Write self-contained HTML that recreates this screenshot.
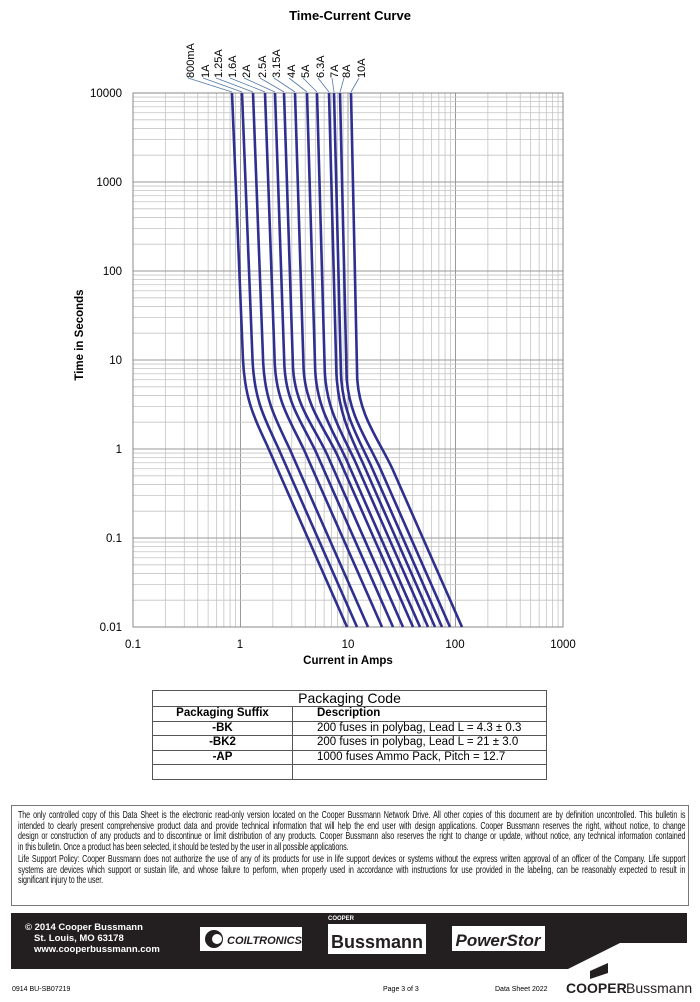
<!DOCTYPE html>
<html><head><meta charset="utf-8"><style>
body{margin:0;background:#fff;width:700px;height:1002px;overflow:hidden;position:relative;font-family:"Liberation Sans",sans-serif}
.a{position:absolute}
.disc{position:absolute;left:11px;top:805px;width:678px;height:101px;border:1px solid #777;box-sizing:border-box}
.ln{position:absolute;left:6px;width:970px;font-size:10.4px;white-space:nowrap;transform:scaleX(0.688);transform-origin:0 0;text-align:justify;text-align-last:justify;letter-spacing:-0.15px;color:#111}
table{border-collapse:collapse;position:absolute;left:152px;top:690px;width:395px;font-size:11.5px}
td{border:1px solid #555;padding:0;height:13.5px;line-height:13px}
</style></head><body>
<div class="a" style="left:0;width:700px;top:8px;text-align:center;font-weight:bold;font-size:13px">Time-Current Curve</div>
<svg class="a" style="left:0;top:0" width="700" height="680" id="s">
<g id="grid"></g><g id="curves" fill="none" stroke="#2e2f8f" stroke-width="2.6"></g><g id="lead" stroke="#5577aa" stroke-width="0.8"></g>
<g font-size="11.5" fill="#000" text-anchor="end">
<text x="122" y="97">10000</text><text x="122" y="186">1000</text><text x="122" y="275">100</text><text x="122" y="364">10</text><text x="122" y="453">1</text><text x="122" y="542">0.1</text><text x="122" y="631">0.01</text></g>
<g font-size="11.5" text-anchor="middle"><text x="133" y="648">0.1</text><text x="240" y="648">1</text><text x="348" y="648">10</text><text x="455" y="648">100</text><text x="563" y="648">1000</text></g>
<text x="348" y="664" text-anchor="middle" font-size="11.5" font-weight="bold">Current in Amps</text>
<text transform="translate(83,335) rotate(-90)" text-anchor="middle" font-size="11.5" font-weight="bold">Time in Seconds</text>
<g font-size="11" id="labs"></g>
</svg>
<table>
<tr><td colspan="2" style="text-align:center;font-size:14px;height:15px">Packaging Code</td></tr>
<tr><td style="width:139px;text-align:center;font-weight:bold">Packaging Suffix</td><td style="font-weight:bold;padding-left:24px">Description</td></tr>
<tr><td style="text-align:center;font-weight:bold">-BK</td><td style="padding-left:24px">200 fuses in polybag, Lead L = 4.3 ± 0.3</td></tr>
<tr><td style="text-align:center;font-weight:bold">-BK2</td><td style="padding-left:24px">200 fuses in polybag, Lead L = 21 ± 3.0</td></tr>
<tr><td style="text-align:center;font-weight:bold">-AP</td><td style="padding-left:24px">1000 fuses Ammo Pack, Pitch = 12.7</td></tr>
<tr><td></td><td></td></tr>
</table>
<div class="disc">
<div class="ln" style="top:4px">The only controlled copy of this Data Sheet is the electronic read-only version located on the Cooper Bussmann Network Drive. All other copies of this document are by definition uncontrolled. This bulletin is</div>
<div class="ln" style="top:14.5px">intended to clearly present comprehensive product data and provide technical information that will help the end user with design applications. Cooper Bussmann reserves the right, without notice, to change</div>
<div class="ln" style="top:25px">design or construction of any products and to discontinue or limit distribution of any products. Cooper Bussmann also reserves the right to change or update, without notice, any technical information contained</div>
<div class="ln" style="top:35.5px;text-align-last:left">in this bulletin. Once a product has been selected, it should be tested by the user in all possible applications.</div>
<div class="ln" style="top:48px">Life Support Policy: Cooper Bussmann does not authorize the use of any of its products for use in life support devices or systems without the express written approval of an officer of the Company. Life support</div>
<div class="ln" style="top:58.5px">systems are devices which support or sustain life, and whose failure to perform, when properly used in accordance with instructions for use provided in the labeling, can be reasonably expected to result in</div>
<div class="ln" style="top:69px;text-align-last:left">significant injury to the user.</div>
</div>
<svg class="a" style="left:0;top:905px" width="700" height="97">
<polygon points="11,8 687,8 687,38 620,38 568,64 11,64" fill="#231f20"/>
<polygon points="590,66 608,58 608,68 590,74" fill="#231f20"/>
<rect x="200" y="22" width="102" height="24" fill="#fff"/><circle cx="214" cy="34" r="9" fill="#231f20"/><circle cx="217" cy="34" r="5" fill="#fff"/>
<text x="227" y="39" font-size="11" font-weight="bold" font-style="italic" fill="#231f20">COILTRONICS</text>
<rect x="328" y="19" width="98" height="30" fill="#fff"/><text x="377" y="43" text-anchor="middle" font-size="18" font-weight="bold" fill="#231f20">Bussmann</text>
<text x="328" y="15" font-size="6" font-weight="bold" fill="#fff">COOPER</text>
<rect x="452" y="21" width="93" height="25" fill="#fff"/><text x="498" y="41" text-anchor="middle" font-size="17" font-weight="bold" font-style="italic" fill="#231f20">PowerStor</text>
<text x="25" y="25" font-size="9.5" font-weight="bold" fill="#fff">© 2014 Cooper Bussmann</text>
<text x="34" y="36" font-size="9.5" font-weight="bold" fill="#fff">St. Louis, MO 63178</text>
<text x="34" y="47" font-size="9.5" font-weight="bold" fill="#fff">www.cooperbussmann.com</text>
<text x="12" y="86" font-size="7">0914   BU-SB07219</text>
<text x="383" y="86" font-size="7">Page 3 of 3</text>
<text x="495" y="86" font-size="7">Data Sheet 2022</text>
<text x="566" y="88" font-size="14" font-weight="bold" fill="#231f20">COOPER</text>
<text x="626" y="88" font-size="14" fill="#231f20">Bussmann</text>
</svg>
<script>
var NS="http://www.w3.org/2000/svg";
function el(p,t,a){var e=document.createElementNS(NS,t);for(var k in a)e.setAttribute(k,a[k]);p.appendChild(e);return e;}
var g=document.getElementById("grid");
var X0=133,XD=107.5,YD=89;
for(var d=0;d<4;d++)for(var m=1;m<=9;m++){var x=X0+XD*(d+Math.log10(m));el(g,"line",{x1:x,x2:x,y1:93,y2:627,stroke:m==1?"#999":"#c4c4c4","stroke-width":m==1?1:0.8});}
for(var d=0;d<6;d++)for(var m=1;m<=9;m++){var y=627-YD*(d+Math.log10(m));el(g,"line",{x1:133,x2:563,y1:y,y2:y,stroke:m==1?"#999":"#c4c4c4","stroke-width":m==1?1:0.8});}
el(g,"rect",{x:133,y:93,width:430,height:534,fill:"none",stroke:"#888","stroke-width":1});
var tops=[232,242,253,265,275,284,295,307,317,329,334,340,351];
var bots=[347,357,368,382,393,403,413,420,428,435,442,450,462];
var names=["800mA","1A","1.25A","1.6A","2A","2.5A","3.15A","4A","5A","6.3A","7A","8A","10A"];
var lx=[190,205,218,232,246,262,276,291,305,320,334,346,361];
var c=document.getElementById("curves"),L=document.getElementById("lead"),lab=document.getElementById("labs");
for(var i=0;i<13;i++){
 var x0=tops[i],xa=x0+11-i*0.4,xb=bots[i];
 var ya=360+i*1.5,yc=445+i*2,xc=xb-0.44*(627-yc);
 el(c,"path",{d:"M"+x0+",93 L"+xa+","+ya+" C"+(xa+2)+","+(ya+38)+" "+(xc-14)+","+(yc-30)+" "+xc+","+yc+" L"+xb+",627"});
 el(L,"line",{x1:lx[i]-2,y1:78,x2:x0,y2:92});
 var t=el(lab,"text",{transform:"translate("+(lx[i]+4)+",78) rotate(-90)"});t.textContent=names[i];
}
</script>
</body></html>
